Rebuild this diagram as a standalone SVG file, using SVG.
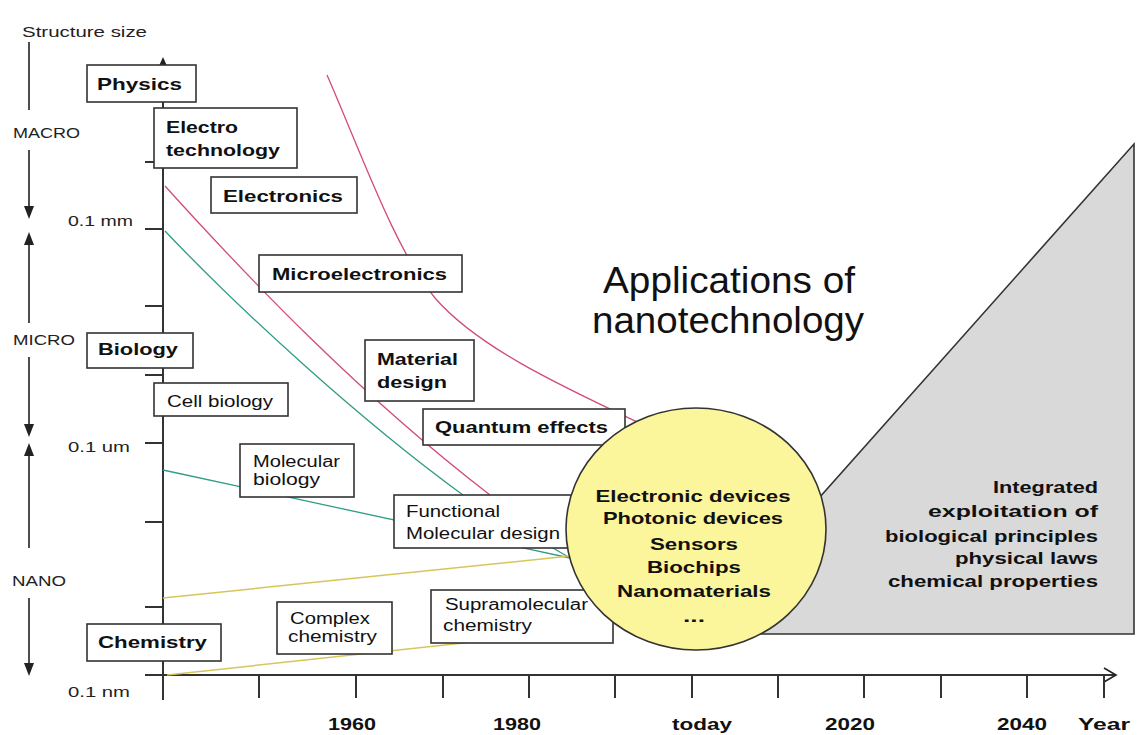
<svg xmlns="http://www.w3.org/2000/svg" width="1139" height="735" viewBox="0 0 1139 735">
<style>
text{font-family:"Liberation Sans",Arial,sans-serif;fill:#111}
.b{font-weight:bold;font-size:17px}
.n{font-size:16px}
.ax{font-size:15px;fill:#222}
.yr{font-weight:bold;font-size:17px;text-anchor:middle}
.box{fill:#fff;stroke:#333;stroke-width:1.6}
.pink{fill:none;stroke:#d24a80;stroke-width:1.3}
.green{fill:none;stroke:#2f9c86;stroke-width:1.3}
.yellow{fill:none;stroke:#d6c65a;stroke-width:1.5}
.axis{stroke:#333;stroke-width:2;fill:none}
.thin{stroke:#222;stroke-width:1.6;fill:none}
.ah{fill:#222}
.mid{text-anchor:middle}
.end{text-anchor:end}
</style>
<rect width="1139" height="735" fill="#fff"/>

<g id="scale">
  <text class="ax" x="22" y="37" textLength="125" lengthAdjust="spacingAndGlyphs" font-size="16">Structure size</text>
  <path class="thin" d="M29,42V110M29,150V207M29,245V323M29,357V425M29,456V548M29,598V664"/>
  <polygon class="ah" points="24,206 34,206 29,219"/>
  <polygon class="ah" points="24,245 34,245 29,232"/>
  <polygon class="ah" points="24,424 34,424 29,437"/>
  <polygon class="ah" points="24,456 34,456 29,443"/>
  <polygon class="ah" points="24,663 34,663 29,676"/>
  <text class="ax" x="13" y="138" textLength="67" lengthAdjust="spacingAndGlyphs">MACRO</text>
  <text class="ax" x="68" y="226" textLength="65" lengthAdjust="spacingAndGlyphs">0.1 mm</text>
  <text class="ax" x="13" y="345" textLength="62" lengthAdjust="spacingAndGlyphs">MICRO</text>
  <text class="ax" x="68" y="452" textLength="62" lengthAdjust="spacingAndGlyphs">0.1 um</text>
  <text class="ax" x="12" y="586" textLength="54" lengthAdjust="spacingAndGlyphs">NANO</text>
  <text class="ax" x="68" y="697" textLength="62" lengthAdjust="spacingAndGlyphs">0.1 nm</text>
</g>

<g id="axes">
  <path class="axis" d="M163,62V700"/>
  <polygon class="ah" points="163,57 158.5,67 167.5,67"/>
  <path class="axis" d="M145,162H163M145,229H163M145,306H163M145,375H163M145,443H163M145,522H163M145,607H163"/>
  <path class="axis" d="M145,675H1115"/>
  <path class="thin" d="M1104,668L1116,675L1104,682"/>
  <path class="axis" d="M259,675V698M356,675V698M443,675V698M529,675V698M615,675V698M692,675V698M778,675V698M864,675V698M941,675V698M1027,675V698M1104,675V698"/>
  <text class="yr" x="352" y="730" textLength="48" lengthAdjust="spacingAndGlyphs">1960</text>
  <text class="yr" x="517" y="730" textLength="48" lengthAdjust="spacingAndGlyphs">1980</text>
  <text class="yr" x="702" y="730" textLength="60" lengthAdjust="spacingAndGlyphs">today</text>
  <text class="yr" x="850" y="730" textLength="50" lengthAdjust="spacingAndGlyphs">2020</text>
  <text class="yr" x="1022" y="730" textLength="50" lengthAdjust="spacingAndGlyphs">2040</text>
  <text class="yr" x="1104" y="730" textLength="52" lengthAdjust="spacingAndGlyphs">Year</text>
</g>

<g id="future">
  <polygon points="698,634 1134,144 1134,634" fill="#d9d9d9" stroke="#333" stroke-width="1.6"/>
  <text class="b end" x="1098" y="493" textLength="105" lengthAdjust="spacingAndGlyphs">Integrated</text>
  <text class="b end" x="1098" y="517" textLength="170" lengthAdjust="spacingAndGlyphs">exploitation of</text>
  <text class="b end" x="1098" y="542" textLength="213" lengthAdjust="spacingAndGlyphs">biological principles</text>
  <text class="b end" x="1098" y="564" textLength="143" lengthAdjust="spacingAndGlyphs">physical laws</text>
  <text class="b end" x="1098" y="587" textLength="210" lengthAdjust="spacingAndGlyphs">chemical properties</text>
</g>

<g id="title">
  <text x="603" y="293" font-size="36" textLength="252" lengthAdjust="spacingAndGlyphs">Applications of</text>
  <text x="592" y="333" font-size="36" textLength="272" lengthAdjust="spacingAndGlyphs">nanotechnology</text>
</g>

<g id="connectors">
  <path class="pink" d="M327,75C360,150 395,250 435,298C480,350 570,390 650,428"/>
  <path class="pink" d="M165,186C250,280 360,395 490,495L540,530"/>
  <path class="green" d="M165,231C240,310 360,420 463,495L570,558"/>
  <path class="green" d="M163,470L570,558"/>
  <path class="yellow" d="M163,598L570,556"/>
  <path class="yellow" d="M167,675L612,627"/>
</g>

<g id="physics"><rect class="box" x="87" y="65" width="109" height="37"/><text class="b" x="97" y="90" textLength="85" lengthAdjust="spacingAndGlyphs">Physics</text></g>
<g id="electrotechnology"><rect class="box" x="154" y="108" width="143" height="60"/><text class="b" x="166" y="133" textLength="72" lengthAdjust="spacingAndGlyphs">Electro</text><text class="b" x="166" y="156" textLength="114" lengthAdjust="spacingAndGlyphs">technology</text></g>
<g id="electronics"><rect class="box" x="211" y="177" width="146" height="36"/><text class="b" x="223" y="202" textLength="120" lengthAdjust="spacingAndGlyphs">Electronics</text></g>
<g id="microelectronics"><rect class="box" x="259" y="255" width="203" height="37"/><text class="b" x="272" y="280" textLength="175" lengthAdjust="spacingAndGlyphs">Microelectronics</text></g>
<g id="material"><rect class="box" x="365" y="340" width="109" height="61"/><text class="b" x="377" y="365" textLength="81" lengthAdjust="spacingAndGlyphs">Material</text><text class="b" x="377" y="388" textLength="70" lengthAdjust="spacingAndGlyphs">design</text></g>
<g id="quantum"><rect class="box" x="423" y="409" width="202" height="36"/><text class="b" x="435" y="433" textLength="173" lengthAdjust="spacingAndGlyphs">Quantum effects</text></g>
<g id="biology"><rect class="box" x="87" y="333" width="106" height="35"/><text class="b" x="98" y="355" textLength="80" lengthAdjust="spacingAndGlyphs">Biology</text></g>
<g id="cellbiology"><rect class="box" x="154" y="383" width="134" height="33"/><text class="n" x="167" y="407" textLength="106" lengthAdjust="spacingAndGlyphs">Cell biology</text></g>
<g id="molbiology"><rect class="box" x="240" y="444" width="114" height="53"/><text class="n" x="253" y="467" textLength="87" lengthAdjust="spacingAndGlyphs">Molecular</text><text class="n" x="253" y="485" textLength="67" lengthAdjust="spacingAndGlyphs">biology</text></g>
<g id="functional"><rect class="box" x="394" y="495" width="180" height="53"/><text class="n" x="406" y="517" textLength="94" lengthAdjust="spacingAndGlyphs">Functional</text><text class="n" x="406" y="539" textLength="154" lengthAdjust="spacingAndGlyphs">Molecular design</text></g>
<g id="chemistry"><rect class="box" x="87" y="624" width="134" height="37"/><text class="b" x="98" y="648" textLength="109" lengthAdjust="spacingAndGlyphs">Chemistry</text></g>
<g id="complex"><rect class="box" x="277" y="602" width="115" height="52"/><text class="n" x="290" y="624" textLength="80" lengthAdjust="spacingAndGlyphs">Complex</text><text class="n" x="288" y="642" textLength="89" lengthAdjust="spacingAndGlyphs">chemistry</text></g>
<g id="supramolecular"><rect class="box" x="431" y="590" width="182" height="53"/><text class="n" x="445" y="610" textLength="143" lengthAdjust="spacingAndGlyphs">Supramolecular</text><text class="n" x="443" y="631" textLength="89" lengthAdjust="spacingAndGlyphs">chemistry</text></g>

<g id="applications">
  <ellipse cx="696" cy="529" rx="130" ry="121" fill="#fbf59b" stroke="#333" stroke-width="1.6"/>
  <text class="b mid" x="693" y="502" textLength="195" lengthAdjust="spacingAndGlyphs">Electronic devices</text>
  <text class="b mid" x="693" y="524" textLength="180" lengthAdjust="spacingAndGlyphs">Photonic devices</text>
  <text class="b mid" x="694" y="550" textLength="88" lengthAdjust="spacingAndGlyphs">Sensors</text>
  <text class="b mid" x="694" y="573" textLength="94" lengthAdjust="spacingAndGlyphs">Biochips</text>
  <text class="b mid" x="694" y="597" textLength="154" lengthAdjust="spacingAndGlyphs">Nanomaterials</text>
  <text class="b mid" x="694" y="622" textLength="22" lengthAdjust="spacingAndGlyphs">...</text>
</g>
</svg>
